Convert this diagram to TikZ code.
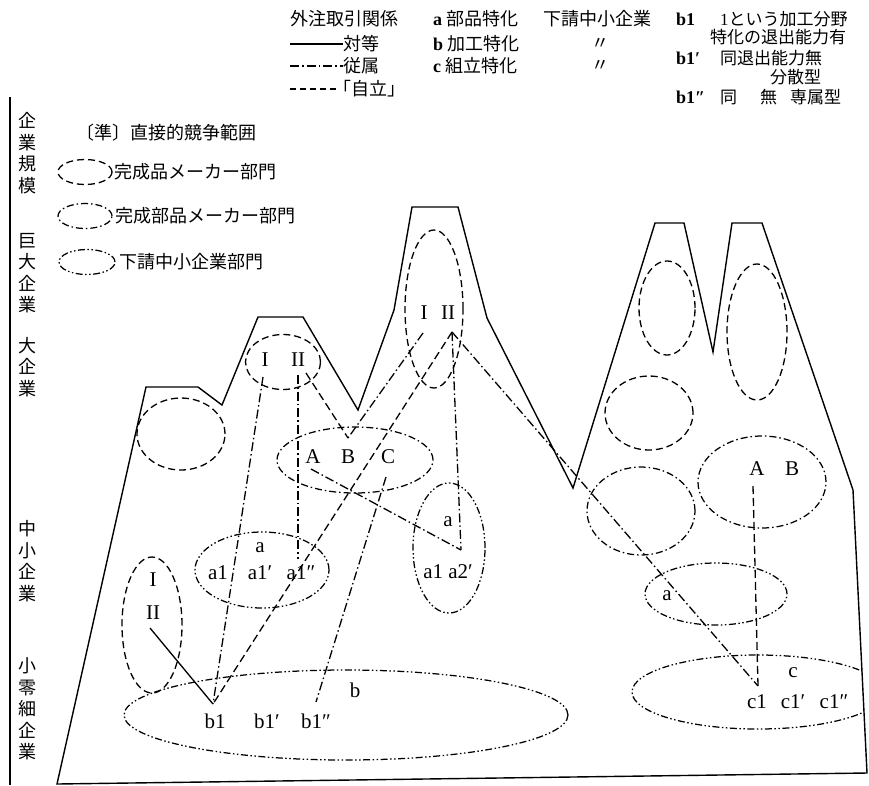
\documentclass[tikz,border=0pt]{standalone}
\usepackage{fontspec}
\setmainfont{Liberation Serif}
\newfontfamily\jp{Noto Sans CJK JP}
\usetikzlibrary{shapes.geometric}
\begin{document}
\begin{tikzpicture}[x=1pt,y=-1pt,
  outline/.style={line width=1.4pt, line join=miter},
  kansei/.style={draw, line width=1.3pt, dash pattern=on 7pt off 4pt},
  buhin/.style={draw, line width=1.25pt, dash pattern=on 7pt off 3pt on 1.5pt off 3pt},
  shita/.style={draw, line width=1.25pt, dash pattern=on 7pt off 2.5pt on 1.5pt off 2.5pt on 1.5pt off 2.5pt},
  taitou/.style={line width=1.3pt},
  juzoku/.style={line width=1.3pt, dash pattern=on 9pt off 3pt on 1.5pt off 3pt},
  jiritsu/.style={line width=1.3pt, dash pattern=on 8pt off 4pt},
  el/.style={ellipse, inner sep=0pt, outer sep=0pt},
  jt/.style={font=\jp\fontsize{18}{21.5}\selectfont, inner sep=0pt},
  jr/.style={font=\jp\fontsize{17}{20}\selectfont, inner sep=0pt},
  lt/.style={font=\fontsize{21}{23}\selectfont, inner sep=0pt},
  lb/.style={font=\bfseries\fontsize{18}{20}\selectfont, inner sep=0pt},
]
\useasboundingbox (0,0) rectangle (869,785);

% axis
\draw[line width=1.3pt] (10,97) -- (10,785);
\node[jt, align=center] (v1) at (27,153) {企\\業\\規\\模};
\node[jt, align=center] (v2) at (27,273) {巨\\大\\企\\業};
\node[jt, align=center] (v3) at (27,367) {大\\企\\業};
\node[jt, align=center] (v4) at (27,561) {中\\小\\企\\業};
\node[jt, align=center] (v5) at (27,709) {小\\零\\細\\企\\業};

% top legend
\node[jt, anchor=west] (lg0) at (290,19) {外注取引関係};
\coordinate (l1a) at (290,44); \coordinate (l1b) at (343,44);
\draw[taitou] (l1a) -- (l1b);
\node[jt, anchor=west] (lg1) at (343,44) {対等};
\coordinate (l2a) at (290,66); \coordinate (l2b) at (343,66);
\draw[juzoku] (l2a) -- (l2b);
\node[jt, anchor=west] (lg2) at (343,66) {従属};
\coordinate (l3a) at (290,89); \coordinate (l3b) at (336,89);
\draw[line width=1.3pt, dash pattern=on 6pt off 4pt] (l3a) -- (l3b);
\node[jt, anchor=west] (lg3) at (333,89) {「自立」};

\node[jt, anchor=west] (ga) at (433,19) {{\rmfamily\bfseries a} 部品特化};
\node[jt, anchor=west] (gb) at (433,44) {{\rmfamily\bfseries b} 加工特化};
\node[jt, anchor=west] (gc) at (433,66) {{\rmfamily\bfseries c} 組立特化};
\node[jt, anchor=west] (gs) at (543,19) {下請中小企業};
\node[jt] (gd1) at (600,44) {〃};
\node[jt] (gd2) at (600,66) {〃};

\node[lb, anchor=west] (rb1) at (676,19) {b1};
\node[jr, anchor=west] (rt1) at (720,19) {{\rmfamily 1}という加工分野};
\node[jr, anchor=west] (rt2) at (710,37) {特化の退出能力有};
\node[lb, anchor=west] (rb2) at (676,58) {b1′};
\node[jr, anchor=west] (rt3) at (720,58) {同退出能力無};
\node[jr, anchor=west] (rt4) at (770,77) {分散型};
\node[lb, anchor=west] (rb3) at (676,97) {b1″};
\node[jr, anchor=west] (rt5) at (720,97) {同};
\node[jr, anchor=west] (rt6) at (760,97) {無};
\node[jr, anchor=west] (rt7) at (790,97) {専属型};

% left legend
\node[jt, anchor=west] (jun) at (76,133) {〔準〕直接的競争範囲};
\node[el, kansei, minimum width=54pt, minimum height=25pt] (k1) at (85,172) {};
\node[jt, anchor=west] (k1t) at (114,172) {完成品メーカー部門};
\node[el, buhin, minimum width=54pt, minimum height=25pt] (k2) at (85,216) {};
\node[jt, anchor=west] (k2t) at (115,216) {完成部品メーカー部門};
\node[el, shita, minimum width=56pt, minimum height=25pt] (k3) at (87,262) {};
\node[jt, anchor=west] (k3t) at (119,262) {下請中小企業部門};

% mountain outline
\draw[outline] (57,784) -- (146,387) -- (198,387) -- (222,405) -- (258,317) -- (303,317)
  -- (358,410) -- (394,310) -- (412,207) -- (458,207) -- (487,318) -- (573,488)
  -- (655,223) -- (684,223) -- (713,352) -- (732,223) -- (762,223) -- (853,490)
  -- (867,773) -- cycle;

% ellipses
\node[el, kansei, minimum width=88pt, minimum height=72pt] (E1) at (181,434) {};
\node[el, kansei, minimum width=75pt, minimum height=55pt] (E2) at (283,362) {};
\node[el, kansei, minimum width=58pt, minimum height=158pt] (E3) at (434,309) {};
\node[el, buhin, minimum width=156pt, minimum height=66pt] (E4) at (355,460) {};
\node[el, shita, minimum width=134pt, minimum height=76pt] (E5) at (262,570) {};
\node[el, kansei, minimum width=60pt, minimum height=136pt] (E6) at (152,625) {};
\node[el, shita, minimum width=72pt, minimum height=130pt] (E7) at (449,548) {};
\node[el, shita, minimum width=444pt, minimum height=90pt] (E8) at (346,715) {};
\begin{scope}
\clip (0,0) -- (853,0) -- (853,490) -- (867,773) -- (867,785) -- (0,785) -- cycle;
\node[el, shita, minimum width=252pt, minimum height=74pt] (E9) at (758,692) {};
\end{scope}
\node[el, shita, minimum width=142pt, minimum height=62pt] (E10) at (716,594) {};
\node[el, buhin, minimum width=108pt, minimum height=88pt] (E11) at (641,511) {};
\node[el, buhin, minimum width=128pt, minimum height=92pt] (E12) at (762,482) {};
\node[el, kansei, minimum width=88pt, minimum height=74pt] (E13) at (649,413) {};
\node[el, kansei, minimum width=56pt, minimum height=94pt] (E14) at (667,308) {};
\node[el, kansei, minimum width=60pt, minimum height=136pt] (E15) at (757,332) {};

% labels
\node[lt] (e2i) at (265,360) {I};
\node[lt] (e2ii) at (298,360) {II};
\node[lt] (e3i) at (424,313) {I};
\node[lt] (e3ii) at (448,313) {II};
\node[lt] (e4a) at (313,457) {A};
\node[lt] (e4b) at (348,457) {B};
\node[lt] (e4c) at (388,457) {C};
\node[lt] (e5a) at (260,548) {a};
\node[lt] (e5a1) at (218,573) {a1};
\node[lt] (e5a1p) at (260,573) {a1′};
\node[lt] (e5a1pp) at (301,573) {a1″};
\node[lt] (e6i) at (153,580) {I};
\node[lt] (e6ii) at (153,613) {II};
\node[lt] (e7a) at (448,522) {a};
\node[lt] (e7a1) at (448,572) {a1 a2′};
\node[lt] (e8b) at (355,690) {b};
\node[lt] (e8b1) at (215,721) {b1};
\node[lt] (e8b1p) at (267,721) {b1′};
\node[lt] (e8b1pp) at (316,721) {b1″};
\node[lt] (e9c) at (793,673) {c};
\node[lt] (e9c1) at (757,702) {c1};
\node[lt] (e9c1p) at (793,702) {c1′};
\node[lt] (e9c1pp) at (834,702) {c1″};
\node[lt] (e10a) at (667,596) {a};
\node[lt] (e12a) at (757,469) {A};
\node[lt] (e12b) at (792,469) {B};

% connector points
\coordinate (pE2I) at (263,377);
\coordinate (pE2IIa) at (298,375);
\coordinate (pE2IIb) at (306,373);
\coordinate (pB) at (348,438);
\coordinate (pE3I) at (423,333);
\coordinate (pE3II) at (452,332);
\coordinate (pA) at (311,469);
\coordinate (pE7) at (461,550);
\coordinate (pa1pp) at (298,559);
\coordinate (pb1) at (213,704);
\coordinate (pb1pp) at (316,702);
\coordinate (pC) at (386,477);
\coordinate (pE6II) at (150,628);
\coordinate (pc1) at (758,686);
\coordinate (pA2) at (753,486);

\draw[taitou] (pE6II) -- (pb1);
\draw[juzoku] (pE2I) -- (pb1);
\draw[juzoku] (pE2IIa) -- (pa1pp);
\draw[jiritsu] (pE2IIb) -- (pB);
\draw[juzoku] (pE3I) -- (pB);
\draw[jiritsu] (pE3II) -- (pb1);
\draw[juzoku] (pE3II) -- (pE7);
\draw[juzoku] (pA) -- (pE7);
\draw[juzoku] (pE3II) -- (pc1);
\draw[juzoku] (pC) -- (pb1pp);
\draw[jiritsu] (pA2) -- (pc1);
\end{tikzpicture}
\end{document}
